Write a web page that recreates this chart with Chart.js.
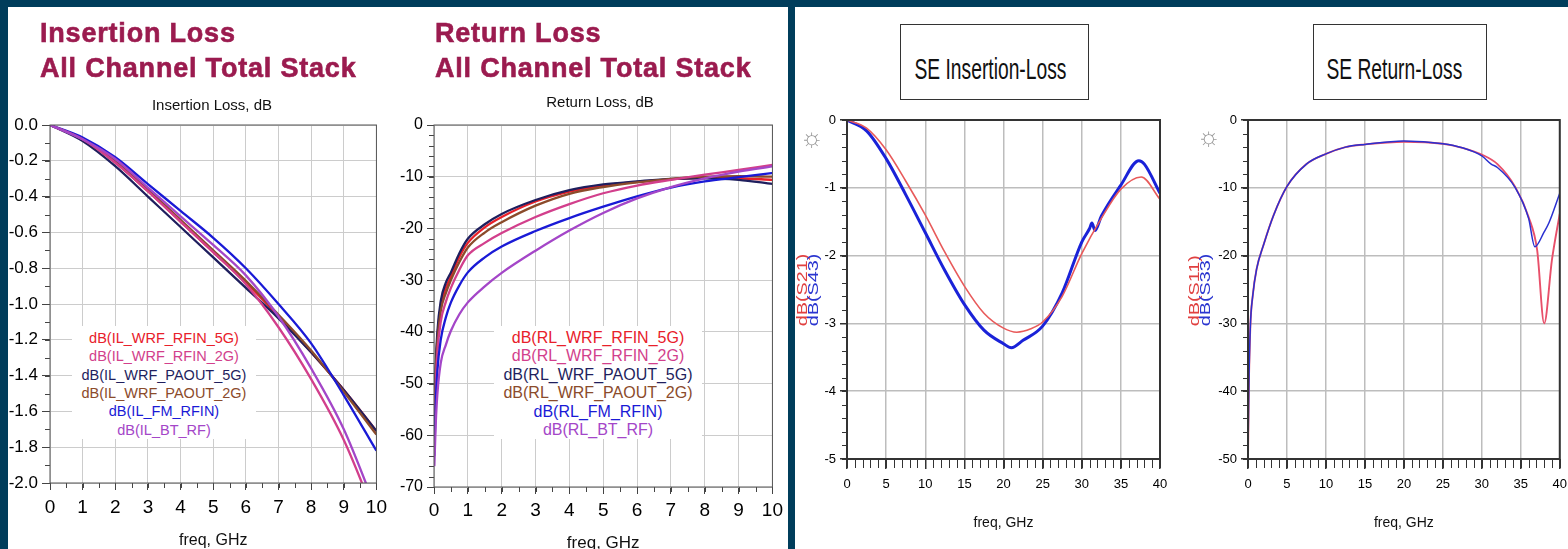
<!DOCTYPE html>
<html><head><meta charset="utf-8">
<script src="https://cdn.jsdelivr.net/npm/chart.js@4.4.0/dist/chart.umd.min.js"></script>
<style>
html,body{margin:0;padding:0;width:1568px;height:549px;overflow:hidden;background:#003d5b;font-family:Arial,'Liberation Sans',sans-serif;}
.panel{position:absolute;background:#fff;}
canvas{position:absolute;}
.t{position:absolute;white-space:nowrap;}
.big{font-weight:bold;font-size:27px;line-height:35px;color:#9b1b4f;letter-spacing:0.8px;-webkit-text-stroke:0.6px #9b1b4f;}
.sub{font-size:15px;line-height:18px;color:#111;text-align:center;width:300px;}
.leg{position:absolute;background:#fff;text-align:center;white-space:nowrap;}
.box{position:absolute;border:1.5px solid #333;box-sizing:border-box;background:#fff;}
.boxtxt{position:absolute;white-space:nowrap;font-size:29px;line-height:32px;color:#111;transform-origin:center center;}
.ytitle{position:absolute;white-space:nowrap;font-size:14px;line-height:11px;text-align:left;}
.sun{position:absolute;font-size:26px;color:#9a9a9a;line-height:26px;}
</style></head><body>
<div class="panel" style="left:8px;top:7px;width:780px;height:542px"></div>
<div class="panel" style="left:795px;top:7px;width:773px;height:542px"></div>
<canvas id="c1"></canvas>
<canvas id="c2"></canvas>
<canvas id="c3"></canvas>
<canvas id="c4"></canvas>

<div class="t big" style="left:40px;top:16px">Insertion Loss<br>All Channel Total Stack</div>
<div class="t big" style="left:435px;top:16px">Return Loss<br>All Channel Total Stack</div>
<div class="t sub" style="left:62px;top:96px">Insertion Loss, dB</div>
<div class="t sub" style="left:450px;top:93px">Return Loss, dB</div>

<div class="leg" style="left:72px;top:326px;width:184px;font-size:14.5px;line-height:18.33px;padding-top:3px">
<div style="color:#e8202a">dB(IL_WRF_RFIN_5G)</div>
<div style="color:#d23f8c">dB(IL_WRF_RFIN_2G)</div>
<div style="color:#1f1f5e">dB(IL_WRF_PAOUT_5G)</div>
<div style="color:#8b4b2b">dB(IL_WRF_PAOUT_2G)</div>
<div style="color:#1a1ad6">dB(IL_FM_RFIN)</div>
<div style="color:#a446c8">dB(IL_BT_RF)</div>
</div>
<div class="leg" style="left:494px;top:326px;width:208px;font-size:16px;line-height:18.4px;padding-top:3px">
<div style="color:#e8202a">dB(RL_WRF_RFIN_5G)</div>
<div style="color:#d23f8c">dB(RL_WRF_RFIN_2G)</div>
<div style="color:#1f1f5e">dB(RL_WRF_PAOUT_5G)</div>
<div style="color:#8b4b2b">dB(RL_WRF_PAOUT_2G)</div>
<div style="color:#1a1ad6">dB(RL_FM_RFIN)</div>
<div style="color:#a446c8">dB(RL_BT_RF)</div>
</div>

<div class="box" style="left:900px;top:24px;width:189px;height:76px"></div>
<div class="box" style="left:1313px;top:24px;width:174px;height:76px"></div>
<div class="boxtxt" id="bt3" data-cx="990" data-cy="69" data-w="152">SE Insertion-Loss</div>
<div class="boxtxt" id="bt4" data-cx="1394" data-cy="69" data-w="136">SE Return-Loss</div>

<div class="ytitle" id="yt3" data-cx="807.5" data-cy="290" data-w="72"><span style="color:#e04040">dB(S21)</span><br><span style="color:#2a35d0">dB(S43)</span></div>
<div class="ytitle" id="yt4" data-cx="1199" data-cy="290" data-w="72"><span style="color:#e04040">dB(S11)</span><br><span style="color:#2a35d0">dB(S33)</span></div>
<div class="sun" style="left:800px;top:124px">☼</div>
<div class="sun" style="left:1197px;top:123px">☼</div>

<script>
// ---------------- DATA ----------------
// Chart 1: Insertion Loss, dB (0-10 GHz)
const ilFreq      = [0, 1, 2, 3, 4, 5, 6, 7, 8, 9, 10];
const ilRfin5g    = [0, -0.08, -0.21, -0.37, -0.54, -0.71, -0.88, -1.07, -1.27, -1.48, -1.71];
const ilRfin2g    = [0, -0.08, -0.21, -0.37, -0.54, -0.71, -0.89, -1.13, -1.42, -1.76, -2.20];
const ilPaout5g   = [0, -0.09, -0.23, -0.40, -0.57, -0.74, -0.91, -1.08, -1.27, -1.48, -1.71];
const ilPaout2g   = [0, -0.08, -0.20, -0.36, -0.53, -0.70, -0.87, -1.06, -1.26, -1.49, -1.73];
const ilFmRfin    = [0, -0.07, -0.18, -0.33, -0.48, -0.63, -0.80, -1.00, -1.22, -1.51, -1.82];
const ilBtRf      = [0, -0.08, -0.19, -0.35, -0.51, -0.67, -0.84, -1.07, -1.36, -1.70, -2.15];

// Chart 2: Return Loss, dB (0-10 GHz)
const rlFreq      = [0.01, 0.05, 0.1, 0.2, 0.35, 0.5, 0.75, 1, 1.5, 2, 3, 4, 5, 6, 7, 8, 9, 10];
const rlRfin5g    = [-60, -48, -41, -35, -31.5, -29.3, -25.5, -22.8, -19.8, -17.8, -14.8, -12.9, -11.7, -11.0, -10.5, -10.2, -10.3, -10.6];
const rlRfin2g    = [-62, -51, -44, -38, -34.2, -31.5, -28.0, -25.2, -22.8, -20.9, -17.8, -15.3, -13.2, -11.7, -10.6, -9.6, -8.7, -7.7];
const rlPaout5g   = [-60, -47, -40, -34, -30.5, -28.5, -24.8, -22.0, -19.2, -17.2, -14.5, -12.6, -11.5, -10.9, -10.4, -10.3, -10.6, -11.4];
const rlPaout2g   = [-61, -49, -42, -36, -32.5, -30.0, -26.5, -23.7, -20.8, -18.8, -15.6, -13.3, -12.0, -11.1, -10.4, -10.0, -9.9, -10.0];
const rlFmRfin    = [-64, -54, -47.5, -41.5, -37.2, -34.3, -31.0, -28.5, -25.6, -23.5, -20.5, -18.0, -15.8, -13.8, -12.1, -10.9, -10.1, -9.3];
const rlBtRf      = [-66, -58, -52, -46, -42.5, -39.8, -36.6, -34.3, -31.2, -28.6, -24.3, -20.4, -17.0, -14.2, -12.0, -10.3, -9.0, -8.0];

// Chart 3: SE Insertion-Loss (0-40 GHz)
const seIlFreqS21 = [0, 2.5, 5, 7.5, 10, 12.5, 15, 17.5, 20, 21.7, 23.5, 25, 27.5, 30, 32.5, 35, 37.6, 40];
const seIlS21     = [0, -0.12, -0.44, -0.90, -1.40, -1.95, -2.45, -2.85, -3.07, -3.13, -3.08, -2.98, -2.60, -1.97, -1.45, -1.02, -0.84, -1.17];
const seIlFreqS43 = [0, 2.5, 5, 7.5, 10, 12.5, 15, 17.5, 20, 21, 22.5, 25, 27.5, 30, 31, 31.3, 31.7, 32.5, 35, 37.3, 38, 40];
const seIlS43     = [0, -0.16, -0.57, -1.10, -1.66, -2.22, -2.72, -3.10, -3.30, -3.36, -3.25, -3.04, -2.55, -1.80, -1.60, -1.52, -1.63, -1.42, -0.96, -0.60, -0.65, -1.08];

// Chart 4: SE Return-Loss (0-40 GHz)
const seRlFreqS11 = [0, 0.1, 0.3, 0.6, 1.1, 2, 3.3, 5, 7.5, 10, 12.5, 15, 20, 25, 27.5, 30, 32, 34.3, 36, 37.1, 38, 39, 40];
const seRlS11     = [-50, -40, -30.5, -26, -22, -18.4, -14, -9.8, -6.5, -5.0, -4.0, -3.6, -3.2, -3.5, -4.1, -5.1, -6.5, -9.9, -14.3, -19.2, -30, -20.6, -13.8];
const seRlFreqS33 = [0, 0.1, 0.3, 0.6, 1.1, 2, 3.3, 5, 7.5, 10, 12.5, 15, 20, 25, 27.5, 30, 31.2, 32, 34.3, 36, 36.8, 38, 38.6, 40];
const seRlS33     = [-50, -40, -30.5, -26, -22, -18.4, -14, -9.8, -6.5, -5.0, -4.0, -3.6, -3.1, -3.5, -4.1, -5.3, -6.5, -7.0, -10.0, -14.5, -18.7, -16.5, -15.2, -10.8];

// ---------------- STYLE / LAYOUT ----------------
Chart.defaults.font.family = "Arial, 'Liberation Sans', sans-serif";
const narrow = "'Liberation Sans Narrow', 'Arial Narrow', Arial, 'Liberation Sans', sans-serif";
const COL = {red:'#e8202a', pink:'#d23f8c', navy:'#1f1f5e', brown:'#8b4b2b', blue:'#1a1ad6', purple:'#a446c8'};

const framePlugin = {
  id: 'frame',
  afterDraw(chart, args, o) {
    const {ctx, chartArea: a} = chart;
    const x = chart.scales.x, y = chart.scales.y;
    ctx.save();
    ctx.strokeStyle = o.tickColor; ctx.lineWidth = 1;
    ctx.beginPath();
    const nx = Math.round((x.max - x.min) / o.minorX);
    for (let i = 0; i <= nx; i++) {
      const px = Math.round(x.getPixelForValue(x.min + i * o.minorX)) + 0.5;
      ctx.moveTo(px, a.bottom); ctx.lineTo(px, a.bottom + o.lenX);
    }
    const ny = Math.round((y.max - y.min) / o.minorY);
    for (let i = 0; i <= ny; i++) {
      const py = Math.round(y.getPixelForValue(y.min + i * o.minorY)) + 0.5;
      ctx.moveTo(a.left - o.lenY, py); ctx.lineTo(a.left, py);
    }
    ctx.stroke();
    ctx.strokeStyle = o.color; ctx.lineWidth = o.width;
    ctx.strokeRect(a.left, a.top, a.right - a.left, a.bottom - a.top);
    ctx.restore();
  }
};

function series(label, xs, ys, color, w) {
  return {label, data: xs.map((x, i) => ({x, y: ys[i]})), borderColor: color, backgroundColor: color,
          borderWidth: w, pointRadius: 0, fill: false, cubicInterpolationMode: 'monotone'};
}

function makeChart(id, g, datasets, sx, sy, fr) {
  const cv = document.getElementById(id);
  cv.width = g.w; cv.height = g.h;
  cv.style.left = g.left + 'px'; cv.style.top = g.top + 'px';
  const yW = g.L - g.left, padTop = g.T - g.top, padRight = g.left + g.w - g.R, xH = g.top + g.h - g.B;
  return new Chart(cv, {
    type: 'line',
    data: {datasets},
    options: {
      responsive: false, animation: false, events: [],
      layout: {padding: {left: 0, top: padTop, right: padRight, bottom: 0}},
      plugins: {legend: {display: false}, tooltip: {enabled: false}, frame: fr},
      scales: {
        x: {
          type: 'linear', min: sx.min, max: sx.max,
          afterFit(s) { s.height = xH; },
          ticks: {stepSize: sx.step, autoSkip: false, maxRotation: 0, color: '#000', padding: sx.pad,
                  font: {size: sx.font, family: sx.family}, callback: v => String(Math.round(v))},
          grid: {color: sx.grid, lineWidth: sx.gw, tickLength: sx.tl, tickColor: fr.tickColor},
          border: {display: false},
          title: {display: true, text: 'freq, GHz', color: '#111', font: {size: sx.tfont, family: sx.family},
                  padding: {top: 0, bottom: sx.tpad}}
        },
        y: {
          type: 'linear', min: sy.min, max: sy.max,
          afterFit(s) { s.width = yW; },
          ticks: {stepSize: sy.step, autoSkip: false, color: '#000', padding: sy.pad,
                  font: {size: sy.font, family: sy.family}, callback: sy.fmt},
          grid: {color: sy.grid, lineWidth: sy.gw, tickLength: sy.tl, tickColor: fr.tickColor},
          border: {display: false}
        }
      }
    },
    plugins: [framePlugin]
  });
}

const fmt1 = v => (Math.abs(v) < 1e-9 ? '0.0' : v.toFixed(1));
const fmt0 = v => String(Math.round(v));

makeChart('c1', {left: 8, top: 85, w: 385, h: 475, L: 50, T: 125, R: 381, B: 483}, [
  series('dB(IL_BT_RF)', ilFreq, ilBtRf, COL.purple, 2.3),
  series('dB(IL_WRF_RFIN_2G)', ilFreq, ilRfin2g, COL.pink, 2.3),
  series('dB(IL_FM_RFIN)', ilFreq, ilFmRfin, COL.blue, 2.3),
  series('dB(IL_WRF_PAOUT_2G)', ilFreq, ilPaout2g, COL.brown, 2.3),
  series('dB(IL_WRF_PAOUT_5G)', ilFreq, ilPaout5g, COL.navy, 2.3),
  series('dB(IL_WRF_RFIN_5G)', ilFreq, ilRfin5g, COL.red, 2.3)
], {min: 0, max: 10, step: 1, font: 19, pad: 6, tl: 7, grid: '#cccccc', gw: 1, tfont: 16, tpad: 9.4},
   {min: -2, max: 0, step: 0.2, font: 17, pad: 4, tl: 8, grid: '#cccccc', gw: 1, fmt: fmt1},
   {color: '#555', width: 1, tickColor: '#444', minorX: 0.5, minorY: 0.1, lenX: 5, lenY: 5});

makeChart('c2', {left: 395, top: 85, w: 393, h: 475, L: 434, T: 125, R: 774, B: 487}, [
  series('dB(RL_BT_RF)', rlFreq, rlBtRf, COL.purple, 2.3),
  series('dB(RL_FM_RFIN)', rlFreq, rlFmRfin, COL.blue, 2.3),
  series('dB(RL_WRF_RFIN_2G)', rlFreq, rlRfin2g, COL.pink, 2.3),
  series('dB(RL_WRF_PAOUT_2G)', rlFreq, rlPaout2g, COL.brown, 2.3),
  series('dB(RL_WRF_PAOUT_5G)', rlFreq, rlPaout5g, COL.navy, 2.3),
  series('dB(RL_WRF_RFIN_5G)', rlFreq, rlRfin5g, COL.red, 2.3)
], {min: 0, max: 10, step: 1, font: 19, pad: 5, tl: 7, grid: '#cccccc', gw: 1, tfont: 17, tpad: 6.8},
   {min: -70, max: 0, step: 10, font: 16, pad: 4, tl: 7, grid: '#cccccc', gw: 1, fmt: fmt0},
   {color: '#555', width: 1, tickColor: '#444', minorX: 0.5, minorY: 2, lenX: 5, lenY: 5});

makeChart('c3', {left: 795, top: 100, w: 390, h: 449, L: 847, T: 120, R: 1160, B: 459}, [
  series('dB(S21)', seIlFreqS21, seIlS21, '#e85a5a', 1.6),
  series('dB(S43)', seIlFreqS43, seIlS43, '#1a22d8', 3)
], {min: 0, max: 40, step: 5, font: 13, family: narrow, pad: 8, tl: 10, grid: '#bdbdbd', gw: 1.5, tfont: 14, tpad: 17.6},
   {min: -5, max: 0, step: 1, font: 13, family: narrow, pad: 4, tl: 7, grid: '#bdbdbd', gw: 1.5, fmt: fmt0},
   {color: '#333', width: 2, tickColor: '#333', minorX: 1, minorY: 0.2, lenX: 9, lenY: 5});

makeChart('c4', {left: 1185, top: 100, w: 390, h: 449, L: 1248, T: 120, R: 1561, B: 459}, [
  series('dB(S33)', seRlFreqS33, seRlS33, '#2a30d0', 1.5),
  series('dB(S11)', seRlFreqS11, seRlS11, '#e8506a', 1.9)
], {min: 0, max: 40, step: 5, font: 13, family: narrow, pad: 8, tl: 10, grid: '#bdbdbd', gw: 1.5, tfont: 14, tpad: 17.6},
   {min: -50, max: 0, step: 10, font: 13, family: narrow, pad: 4, tl: 7, grid: '#bdbdbd', gw: 1.5, fmt: fmt0},
   {color: '#333', width: 2, tickColor: '#333', minorX: 1, minorY: 2, lenX: 9, lenY: 5});

// fit the squeezed text labels of the right-hand panel
function fitText(id, rotate) {
  const el = document.getElementById(id);
  const w = el.offsetWidth, h = el.offsetHeight;
  const s = parseFloat(el.dataset.w) / w;
  el.style.left = (parseFloat(el.dataset.cx) - w / 2) + 'px';
  el.style.top = (parseFloat(el.dataset.cy) - h / 2) + 'px';
  el.style.transform = (rotate ? 'rotate(-90deg) ' : '') + 'scaleX(' + s + ')';
}
fitText('bt3', false); fitText('bt4', false);
fitText('yt3', true); fitText('yt4', true);
</script>
</body></html>
